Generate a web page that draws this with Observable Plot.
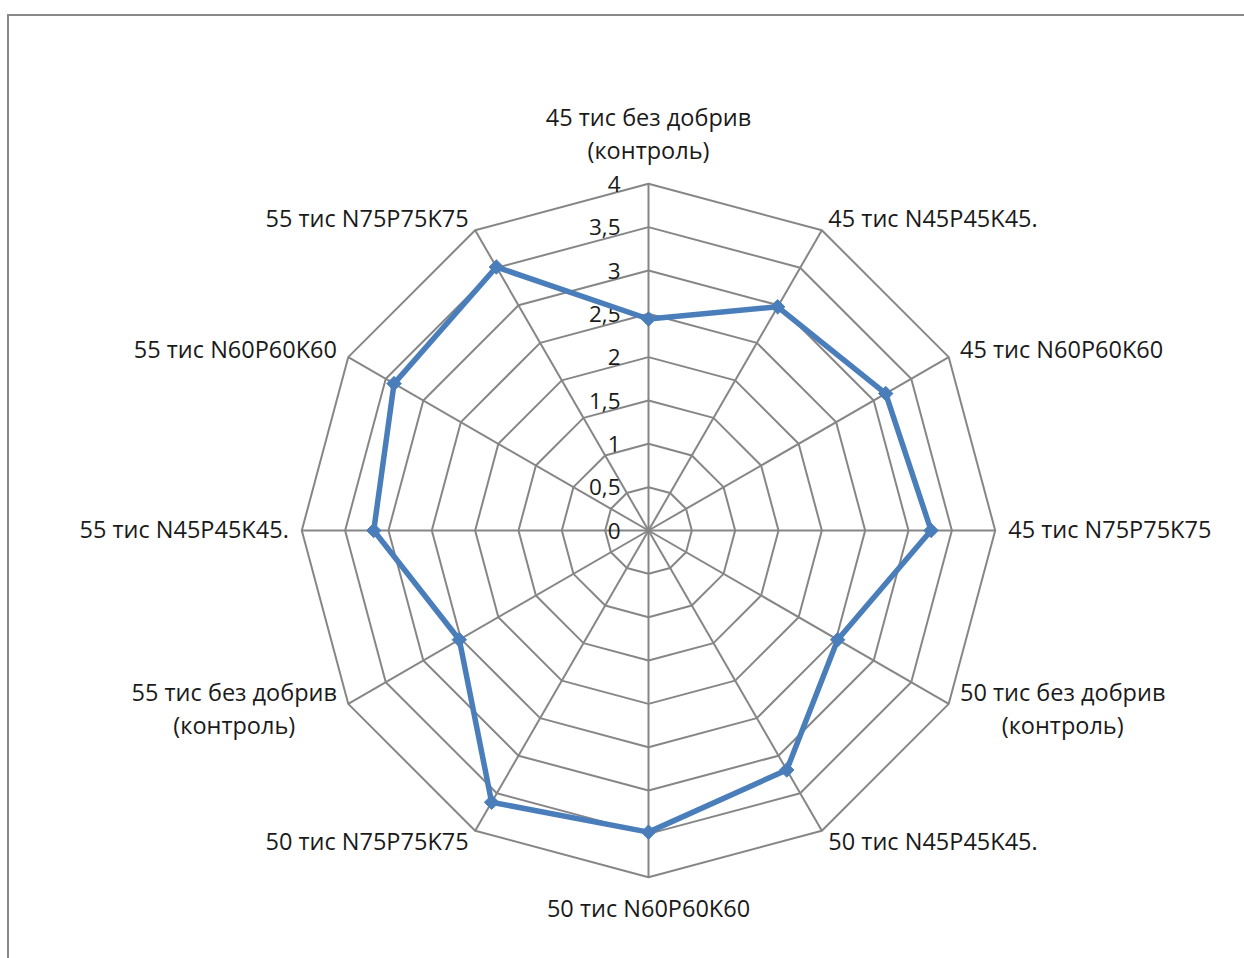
<!DOCTYPE html>
<html>
<head>
<meta charset="utf-8">
<script src="https://cdn.jsdelivr.net/npm/d3@7"></script>
<script src="https://cdn.jsdelivr.net/npm/@observablehq/plot@0.6"></script>
<style>
  body { margin: 0; background: #fff; }
  #chart { position: relative; width: 1244px; height: 958px; overflow: hidden; }
  #frame { position: absolute; left: 7px; top: 14px; width: 1300px; height: 1000px;
           border-left: 2px solid #888; border-top: 2px solid #888; }
  #chart svg { position: absolute; left: 0; top: 0; }
</style>
</head>
<body>
<div id="chart"><div id="frame"></div></div>
<script>
// Categories clockwise from the top spoke
const categories = [
  "45 тис без добрив\n(контроль)",
  "45 тис N45P45K45.",
  "45 тис N60P60K60",
  "45 тис N75P75K75",
  "50 тис без добрив\n(контроль)",
  "50 тис N45P45K45.",
  "50 тис N60P60K60",
  "50 тис N75P75K75",
  "55 тис без добрив\n(контроль)",
  "55 тис N45P45K45.",
  "55 тис N60P60K60",
  "55 тис N75P75K75"
];
const values = [2.44, 2.98, 3.16, 3.26, 2.52, 3.19, 3.48, 3.62, 2.52, 3.17, 3.39, 3.51];
const ticks = [0, 0.5, 1, 1.5, 2, 2.5, 3, 3.5, 4];
const tickLabels = ["0", "0,5", "1", "1,5", "2", "2,5", "3", "3,5", "4"];

// Page geometry
const W = 1244, H = 958;
const cx = 648, cy = 530;          // chart centre in pixels
const rMax = 4;
const k = 346.7 / rMax;            // pixels per value unit
const fontFamily = "'Open Sans', 'Noto Sans', sans-serif";
const fontSize = 23.5;
const tickFontSize = 22.5;
const lineHeight = 1.4;
const blue = "#4a7ebb";
const gridColor = "#868686";
const textColor = "#1a1a1a";

const n = categories.length;
const angle = i => (2 * Math.PI * i) / n;
const polar = (i, r) => ({x: r * Math.sin(angle(i)), y: r * Math.cos(angle(i))});

// Grid rings and spokes
const rings = ticks.filter(t => t > 0).flatMap(t =>
  categories.map((c, i) => ({level: t, ...polar(i, t)})));
const spokes = categories.map((c, i) => ({x1: 0, y1: 0, x2: polar(i, rMax).x, y2: polar(i, rMax).y}));

// Data polygon
const series = values.map((v, i) => ({category: categories[i], value: v, ...polar(i, v)}));

// Category labels placed just outside the outer ring
const ctx = document.createElement("canvas").getContext("2d");
ctx.font = `${fontSize}px ${fontFamily}`;
const pad = 13;
const labels = categories.map((c, i) => {
  const a = angle(i);
  const s = Math.sin(a), co = Math.cos(a);
  const lines = c.split("\n");
  const w = Math.max(...lines.map(l => ctx.measureText(l).width));
  const h = lines.length * lineHeight * fontSize;
  let px = cx + (rMax * k + pad) * s;
  let py = cy - (rMax * k + pad) * co;
  if (s > 0.01) px += w / 2;
  else if (s < -0.01) px -= w / 2;
  else py += (co > 0 ? -1 : 1) * (h / 2 + 3);
  return {text: c, x: (px - cx) / k, y: (cy - py) / k};
});

const tickData = ticks.map((t, i) => ({x: 0, y: t, label: tickLabels[i]}));

const chart = Plot.plot({
  width: W,
  height: H,
  margin: 0,
  style: {fontFamily, fontSize: `${fontSize}px`, background: "transparent", color: textColor},
  x: {type: "linear", domain: [-cx / k, (W - cx) / k], range: [0, W], axis: null},
  y: {type: "linear", domain: [-(H - cy) / k, cy / k], range: [H, 0], axis: null},
  marks: [
    Plot.line(rings, {x: "x", y: "y", z: "level", curve: "linear-closed", stroke: gridColor, strokeWidth: 2}),
    Plot.link(spokes, {x1: "x1", y1: "y1", x2: "x2", y2: "y2", stroke: gridColor, strokeWidth: 2}),
    Plot.text(tickData, {x: "x", y: "y", text: "label", textAnchor: "end", dx: -28, dy: 1,
      fontSize: tickFontSize, fill: textColor}),
    Plot.line(series, {x: "x", y: "y", curve: "linear-closed", stroke: blue, strokeWidth: 5.5, strokeLinejoin: "round"}),
    Plot.dot(series, {x: "x", y: "y", symbol: "diamond2", r: 6.5, fill: blue, stroke: blue, strokeWidth: 1}),
    Plot.text(labels, {x: "x", y: "y", text: "text", textAnchor: "middle", lineAnchor: "middle",
      lineHeight, dy: -3, fontSize, fill: textColor})
  ]
});
document.getElementById("chart").appendChild(chart);
</script>
</body>
</html>
